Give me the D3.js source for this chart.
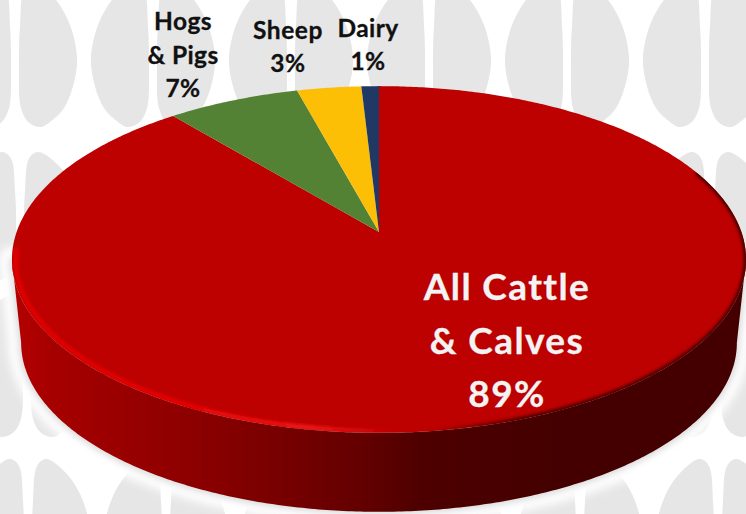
<!DOCTYPE html>
<html>
<head>
<meta charset="utf-8">
<script src="https://cdnjs.cloudflare.com/ajax/libs/d3/7.8.5/d3.min.js"></script>
<style>
  html, body { margin: 0; padding: 0; background: #fff; }
  svg { display: block; }
  text { font-family: Lato, "Open Sans", sans-serif; font-weight: 700; text-anchor: middle; }
</style>
</head>
<body>
<svg id="chart" width="746" height="514"></svg>
<script>
// values, clockwise from 12 o'clock
var categories = ["All Cattle|& Calves", "Hogs|& Pigs", "Sheep", "Dairy"];
var shares = [89, 6.8, 3.3, 0.9];
var colors = ["#bd0000", "#548235", "#fdbf05", "#1f3864"];

var width = 746, height = 514;
var svg = d3.select("#chart");
var defs = svg.append("defs");

// tilted disc: a circle under a perspective, apex is where the wedges meet
var apexX = 379, apexY = 232;
var spreadX = 362.4, spreadY = 169, tilt = 0.1585;
var depth = 84, lowerScale = 0.975;

var project = function(angle, scale, drop) {
  var s = Math.sin(angle), c = Math.cos(angle), w = 1 + tilt * c;
  return [apexX + scale * spreadX * s / w, apexY + drop - scale * spreadY * c / w];
};
var rad = function(deg) { return deg * Math.PI / 180; };

var line = d3.line();
var arcPoints = function(a0, a1, scale, drop) {
  var n = Math.max(2, Math.ceil(Math.abs(a1 - a0) / 0.01));
  return d3.range(n + 1).map(function(i) {
    return project(a0 + (a1 - a0) * i / n, scale, drop);
  });
};

// --- hoofprint wallpaper ---
var hoofRows = [
  {top: -18, bottom: 127, gap: 15},
  {top: 152, bottom: 281, gap: 20},
  {top: 296, bottom: 437, gap: 27},
  {top: 459, bottom: 600, gap: 28}
];
var lobe = [[18,0],[38,.1],[54,.28],[62,.52],[58,.72],[48,.88],[34,.97],[26,1],[14,.97],[6,.87],[4,.6],[5,.3],[9,.05]];
var hoofLine = d3.line().curve(d3.curveCatmullRomClosed.alpha(0.5));
var wallpaper = svg.append("g").attr("fill", "#e6e6e6");
hoofRows.forEach(function(row) {
  d3.range(-1, 7).forEach(function(i) {
    [-1, 1].forEach(function(side) {
      wallpaper.append("path").attr("d", hoofLine(lobe.map(function(p) {
        return [row.gap + 138 * i + side * p[0], row.top + (row.bottom - row.top) * p[1]];
      })));
    });
  });
});

// --- soft halo + shadow round the wall ---
defs.append("filter").attr("id", "haloBlur").attr("x", "-10%").attr("y", "-10%").attr("width", "120%").attr("height", "120%")
  .append("feGaussianBlur").attr("stdDeviation", 5);
defs.append("filter").attr("id", "shadowBlur").attr("x", "-10%").attr("y", "-10%").attr("width", "120%").attr("height", "120%")
  .append("feGaussianBlur").attr("stdDeviation", 3);
defs.append("filter").attr("id", "rimBlur").attr("x", "-10%").attr("y", "-10%").attr("width", "120%").attr("height", "120%")
  .append("feGaussianBlur").attr("stdDeviation", 1.6);

// wall runs between the widest points of the two ellipses
var widest = Math.acos(-tilt);
var wallPts = arcPoints(widest, 2 * Math.PI - widest, 1, 0)
  .concat(arcPoints(2 * Math.PI - widest, widest, lowerScale, depth));

svg.append("path").attr("d", line(wallPts) + "Z")
  .attr("fill", "#fff").attr("stroke", "#fff").attr("stroke-width", 26)
  .attr("stroke-linejoin", "round").attr("filter", "url(#haloBlur)");
svg.append("path").attr("d", line(wallPts) + "Z")
  .attr("fill", "#dcdcdc").attr("stroke", "#dcdcdc").attr("stroke-width", 6)
  .attr("stroke-linejoin", "round").attr("filter", "url(#shadowBlur)");

// --- side wall ---
var gradient = function(id, stops) {
  var g = defs.append("linearGradient").attr("id", id)
    .attr("gradientUnits", "userSpaceOnUse")
    .attr("x1", 0).attr("y1", 0).attr("x2", width).attr("y2", 0);
  stops.forEach(function(s) {
    g.append("stop").attr("offset", s[0] / width).attr("stop-color", s[1]).attr("stop-opacity", s[2] === undefined ? 1 : s[2]);
  });
};
gradient("wallFill", [[15, "#b40000"], [50, "#a60000"], [200, "#8b0000"], [373, "#600000"], [420, "#4e0000"], [560, "#440000"], [746, "#440000"]]);
gradient("rimBright", [[10, "#e00000"], [250, "#e80808"], [310, "#f01818"], [400, "#e01010", 0]]);
gradient("rimDark", [[430, "#4a0000", 0], [520, "#4a0000"], [746, "#4a0000"]]);

svg.append("path").attr("d", line(wallPts) + "Z").attr("fill", "url(#wallFill)");

// --- top face, one wedge per share ---
var pie = d3.pie().sort(null).value(function(d) { return d; });
var slices = pie(shares);

svg.append("g").selectAll("path")
  .data(slices)
  .enter().append("path")
  .attr("fill", function(d, i) { return colors[i]; })
  .attr("d", function(d) {
    return line([[apexX, apexY]].concat(arcPoints(d.startAngle, d.endAngle, 1, 0))) + "Z";
  });

// bevel on the front edge of the disc
var discOutline = line(arcPoints(0, 2 * Math.PI, 1, 0)) + "Z";
defs.append("clipPath").attr("id", "discClip").append("path").attr("d", discOutline);

var bevel = svg.append("g").attr("clip-path", "url(#discClip)");
bevel.append("path")
  .attr("d", line(arcPoints(rad(178), rad(264), 0.99, 0)))
  .attr("fill", "none").attr("stroke", "url(#rimBright)").attr("stroke-width", 5)
  .attr("stroke-linecap", "round")
  .attr("filter", "url(#rimBlur)");
bevel.append("path")
  .attr("d", line(arcPoints(rad(68), rad(182), 1, 0)))
  .attr("fill", "none").attr("stroke", "url(#rimDark)").attr("stroke-width", 5)
  .attr("filter", "url(#rimBlur)");

// --- labels ---
var labelSpots = [
  {x: 507, y: 300, size: 37, gap: 53.5, fill: "#f3f3f3", track: 1.4},
  {x: 183, y: 30, size: 24.5, gap: 33.5, fill: "#111", track: 0.4},
  {x: 288, y: 39, size: 24.5, gap: 33, fill: "#111", track: 0.6},
  {x: 368, y: 37, size: 24.5, gap: 33, fill: "#111", track: 0.4}
];
var pct = d3.format(".0f");

var labels = svg.append("g").selectAll("text")
  .data(categories)
  .enter().append("text")
  .attr("font-size", function(d, i) { return labelSpots[i].size; })
  .attr("letter-spacing", function(d, i) { return labelSpots[i].track; })
  .attr("stroke-width", 0.3)
  .attr("stroke", function(d, i) { return labelSpots[i].fill; })
  .attr("fill", function(d, i) { return labelSpots[i].fill; });

labels.each(function(d, i) {
  var spot = labelSpots[i];
  var lines = d.split("|").concat(pct(shares[i]) + "%");
  d3.select(this).selectAll("tspan")
    .data(lines)
    .enter().append("tspan")
    .attr("x", spot.x)
    .attr("y", function(t, j) { return spot.y + j * spot.gap; })
    .text(function(t) { return t; });
});
</script>
</body>
</html>
